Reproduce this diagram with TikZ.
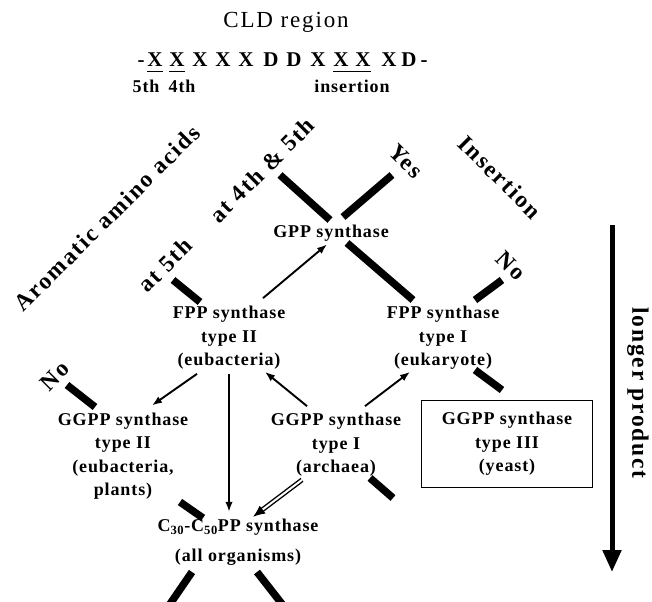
\documentclass[tikz,border=0pt]{standalone}
\usepackage{fontspec}
\setmainfont{Liberation Serif}
\newfontfamily\nodefont[LetterSpace=5]{Liberation Serif}
\newfontfamily\tagfont[LetterSpace=8]{Liberation Serif}
\newfontfamily\headfont[LetterSpace=8]{Liberation Serif}
\usetikzlibrary{arrows.meta,positioning}

\begin{document}
\begin{tikzpicture}[x=1bp,y=-1bp,
    enzyme/.style={font=\nodefont\bfseries\fontsize{18bp}{23.5bp}\selectfont,align=center,inner sep=1bp},
    tag/.style={font=\tagfont\bfseries\fontsize{23.5bp}{26bp}\selectfont,inner sep=0pt},
    site/.style={font=\nodefont\bfseries\fontsize{18bp}{20bp}\selectfont,inner sep=0pt},
    branch/.style={line width=7.5bp},
    arr/.style={line width=1.9bp,-{Latex[length=10bp,width=7.5bp]}}]
    \useasboundingbox (0,0) rectangle (652,602);

    % CLD region header
    \node[font=\headfont\fontsize{23bp}{24bp}\selectfont] (cld) at (286,22) {CLD region};
    \foreach \x/\c [count=\i] in {141/-,155/X,177/X,200/X,223/X,246/X,271/D,294/D,318/X,341/X,363/X,389/X,409/D,424/-} {
        \node[font=\bfseries\fontsize{21bp}{22bp}\selectfont,inner sep=0pt,anchor=base] (seq\i) at (\x,67) {\c};
    }
    \draw[line width=1.3bp] ([yshift=-4bp]seq2.south west) -- ([yshift=-4bp]seq2.south east);
    \draw[line width=1.3bp] ([yshift=-4bp]seq3.south west) -- ([yshift=-4bp]seq3.south east);
    \draw[line width=1.3bp] ([yshift=-4bp]seq10.south west) -- ([yshift=-4bp]seq11.south east);
    \node[site] (fifth) at (146,86) {5th};
    \node[site] (fourth) at (182,86) {4th};
    \node[site] (ins) at (352,86) {insertion};

    % Criteria
    \node[tag,rotate=45] (arom) at (107,218) {Aromatic amino acids};
    \node[tag,rotate=45] (at45) at (262,170) {at 4th \& 5th};
    \node[tag,rotate=45] (at5) at (165,265) {at 5th};
    \node[tag,rotate=-45] (yes) at (406,161) {Yes};
    \node[tag,rotate=-45] (insq) at (500,177) {Insertion};
    \node[tag,rotate=-45] (no1) at (511,266) {No};
    \node[tag,rotate=45] (no2) at (55,376) {No};

    % Enzymes
    \node[enzyme] (gpp) at (331,233) {GPP synthase};
    \node[enzyme] (fpp2) at (229,338) {FPP synthase\\type II\\(eubacteria)};
    \node[enzyme] (fpp1) at (443,338) {FPP synthase\\type I\\(eukaryote)};
    \node[enzyme] (ggpp2) at (123,456) {GGPP synthase\\type II\\(eubacteria,\\plants)};
    \node[enzyme] (ggpp1) at (336,445) {GGPP synthase\\type I\\(archaea)};
    \node[enzyme,draw,line width=1.5bp,minimum width=171bp,minimum height=87bp] (ggpp3) at (507,444) {GGPP synthase\\type III\\(yeast)};
    \node[enzyme] (c30) at (238,542) {C\textsubscript{30}-C\textsubscript{50}PP synthase\\[6bp](all organisms)};

    % Branch bars
    \coordinate (b1) at (280,175);  \coordinate (b1e) at (330,220);
    \coordinate (b2) at (347,243);  \coordinate (b2e) at (413,300);
    \coordinate (b3) at (343,217);  \coordinate (b3e) at (392,175);
    \coordinate (b4) at (475,300);  \coordinate (b4e) at (502,280);
    \coordinate (b5) at (173,280);  \coordinate (b5e) at (200,302);
    \coordinate (b6) at (475,370);  \coordinate (b6e) at (502,390);
    \coordinate (b7) at (67,385);   \coordinate (b7e) at (95,407);
    \coordinate (b8) at (180,502);  \coordinate (b8e) at (203,518);
    \coordinate (b9) at (370,478);  \coordinate (b9e) at (393,498);
    \coordinate (b10) at (192,572); \coordinate (b10e) at (170,604);
    \coordinate (b11) at (257,572); \coordinate (b11e) at (282,604);
    \foreach \b in {b1,b2,b3,b4,b5,b6,b7,b8,b9,b10,b11} {
        \draw[branch] (\b) -- (\b e);
    }

    % Arrows between enzymes
    \draw[arr] ([xshift=34bp,yshift=7bp]fpp2.north) -- ([xshift=-4bp,yshift=-2bp]gpp.south);
    \draw[arr] ([xshift=-32bp,yshift=-3bp]fpp2.south) -- ([xshift=29bp,yshift=6bp]ggpp2.north);
    \draw[arr,shorten >=6bp] ([yshift=-3bp]fpp2.south) -- (fpp2.south |- c30.north);
    \draw[arr] ([xshift=-29bp,yshift=6bp]ggpp1.north) -- ([xshift=36bp,yshift=-1bp]fpp2.south);
    \draw[arr] ([xshift=29bp,yshift=6bp]ggpp1.north) -- ([xshift=-33bp,yshift=-1bp]fpp1.south);
    \draw[line width=1.4bp,double,double distance=2bp,-{Latex[length=12bp,width=10bp]}]
        ([xshift=-34bp,yshift=-2bp]ggpp1.south) -- ([xshift=15bp,yshift=1bp]c30.north);

    % Longer product
    \coordinate (lt) at (612,225);
    \coordinate (lb) at (612,572);
    \draw[line width=5bp,-{Triangle[length=22bp,width=18bp]}] (lt) -- (lb);
    \node[tag,rotate=-90] (longer) at (638,393) {longer product};
\end{tikzpicture}
\end{document}
